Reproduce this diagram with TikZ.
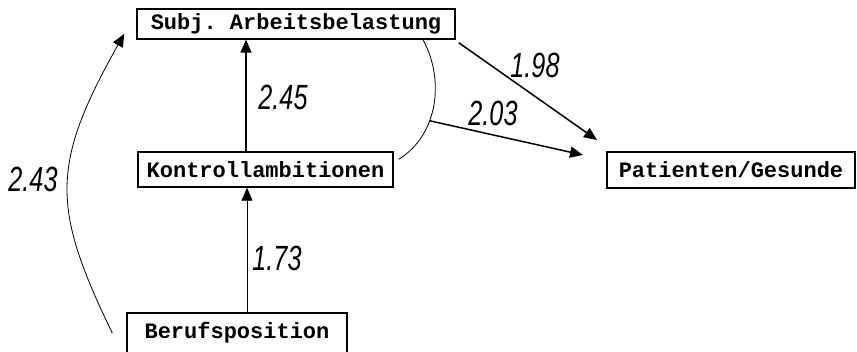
\documentclass[tikz,border=0pt]{standalone}
\usepackage{fontspec}
\setmonofont{Liberation Mono}
\newfontfamily\handfont{Liberation Sans}
\usetikzlibrary{arrows.meta,calc}

\begin{document}
\begin{tikzpicture}[x=1pt,y=-1pt,
  box/.style={draw, line width=1.4pt, inner sep=0pt,
    font=\ttfamily\bfseries\fontsize{22}{24}\selectfont},
  tip/.style={-{Triangle[length=13pt,width=11pt]}},
  strong/.style={line width=1.5pt, tip},
  weak/.style={line width=0.8pt},
  weakarrow/.style={weak, tip},
  coef/.style={font=\handfont\itshape\fontsize{28}{30}\selectfont, inner sep=0pt}]
\useasboundingbox (0,0) rectangle (857,351);
\clip (0,0) rectangle (857,351);

% variables
\node[box, minimum width=318pt, minimum height=30pt] (subj) at (296,24) {Subj. Arbeitsbelastung};
\node[box, minimum width=255pt, minimum height=35pt] (kontroll) at (265.5,169.5) {Kontrollambitionen};
\node[box, minimum width=220pt, minimum height=40pt] (beruf) at (237,333) {Berufsposition};
\node[box, minimum width=248pt, minimum height=36pt] (pat) at (731,170) {Patienten/Gesunde};

% Berufsposition -> Kontrollambitionen
\coordinate (b1) at ([xshift=10pt]beruf.north);
\draw[weakarrow] (b1) -- (b1 |- kontroll.south);
\node[coef] (c173) at (277,258) {\scalebox{0.9}[1.25]{1.73}};

% Kontrollambitionen -> Subj. Arbeitsbelastung
\coordinate (k1) at ([xshift=-19.5pt]kontroll.north);
\draw[strong] (k1) -- (k1 |- subj.south);
\node[coef] (c245) at (283,97) {\scalebox{0.9}[1.25]{2.45}};

% Berufsposition -> Subj. Arbeitsbelastung
\coordinate (b2) at ([xshift=-14pt]beruf.west);
\coordinate (s2) at ([shift={(-12pt,6pt)}]subj.south west);
\draw[weakarrow] (b2) .. controls (51,207) and (51,164) .. (s2);
\node[coef] (c243) at (33,179) {\scalebox{0.9}[1.25]{2.43}};

% joint bracket of both mediators
\coordinate (a1) at ([xshift=127pt]subj.south);
\coordinate (a2) at ([shift={(5pt,-8pt)}]kontroll.north east);
\draw[weak] (a1) .. controls (445,80) and (438,135) .. (a2) coordinate[pos=0.62] (am);

% effects on Patienten/Gesunde
\coordinate (e1) at (583,155);
\draw[strong] (am) -- (e1);
\node[coef] (c203) at (493,113) {\scalebox{0.9}[1.25]{2.03}};

\coordinate (s3) at ([shift={(3pt,-3pt)}]subj.south east);
\coordinate (e2) at (597,140);
\draw[strong] (s3) -- (e2);
\node[coef] (c198) at (535,65) {\scalebox{0.9}[1.25]{1.98}};
\end{tikzpicture}
\end{document}
